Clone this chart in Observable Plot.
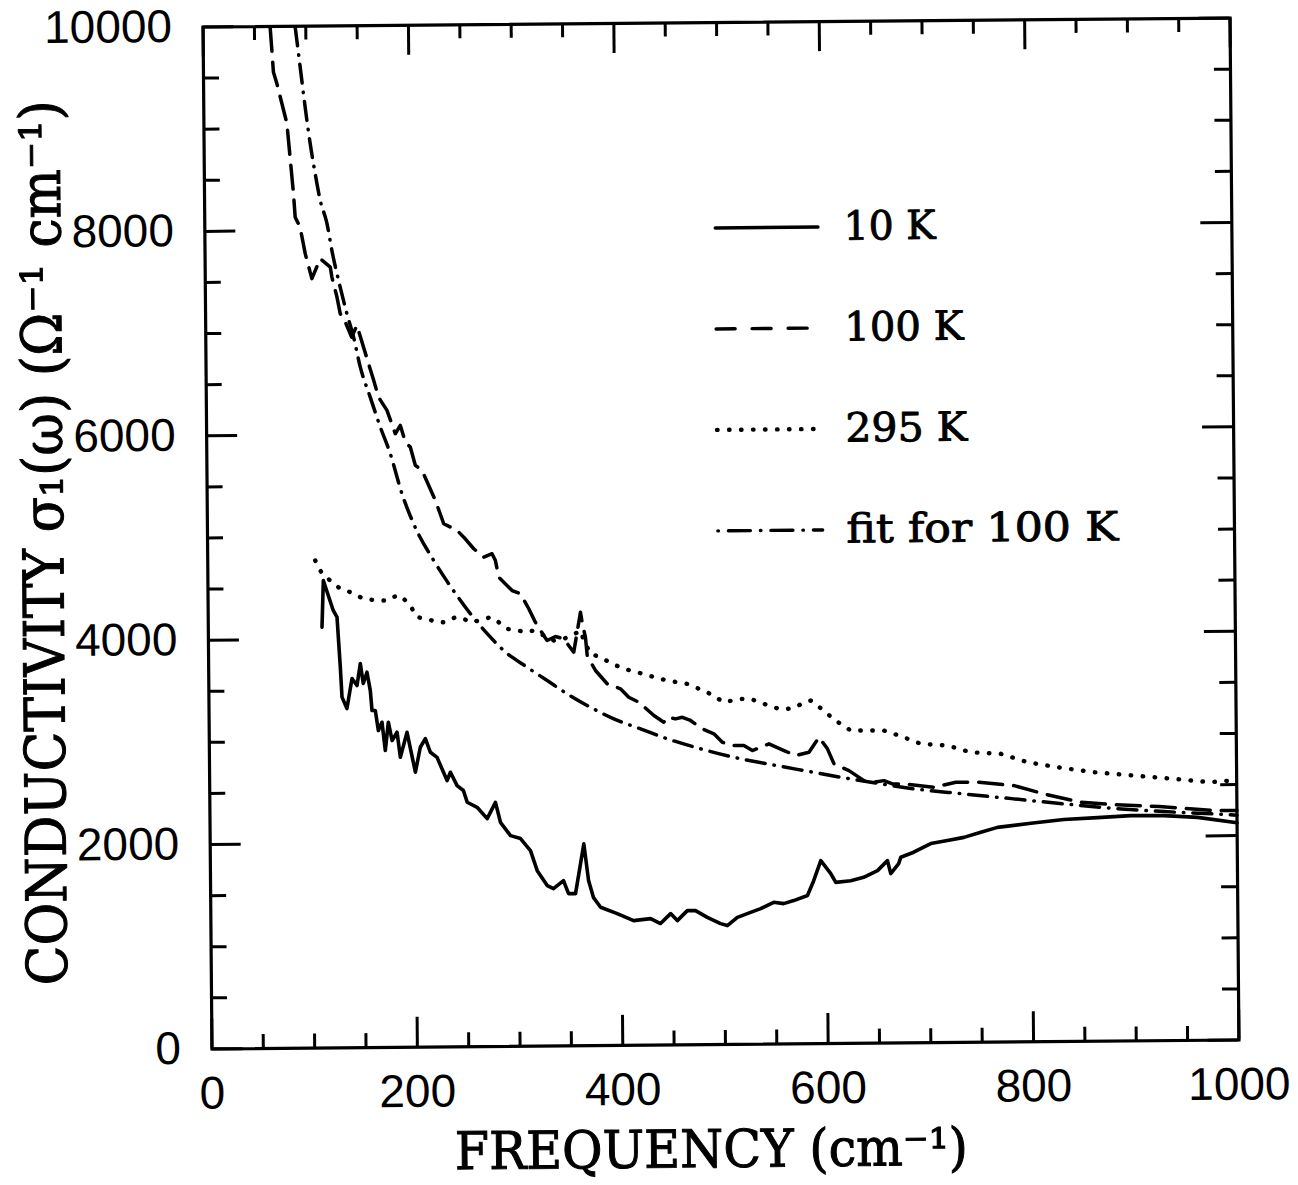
<!DOCTYPE html>
<html>
<head>
<meta charset="utf-8">
<script src="https://cdn.jsdelivr.net/npm/d3@7"></script>
<script src="https://cdn.jsdelivr.net/npm/@observablehq/plot@0.6"></script>
<style>
  html, body { margin: 0; padding: 0; background: #fff; }
  #chart svg { display: block; transform-origin: 720.5px 533px; transform: rotate(-0.5deg); }
</style>
</head>
<body>
<div id="chart"></div>
<script>
// ---------------- data (frequency cm^-1, conductivity Ω^-1 cm^-1) ----------------
const curve10K = [[110.7,4117],[112.4,4574],[121.8,4280],[125.4,4214],[128.2,3724],[129.6,3431],[134.3,3319],[139.5,3613],[144.3,3543],[147.7,3759],[150.4,3563],[154.1,3673],[157.2,3493],[158.7,3298],[161.9,3298],[164.7,3101],[168.3,3182],[171.3,2905],[174.5,3182],[178,3002],[182.9,3083],[185.9,2838],[192.6,3082],[200.4,2690],[205.4,2934],[210.4,3019],[215.2,2884],[221.6,2834],[231.2,2606],[234.5,2687],[240.9,2556],[247,2507],[250.6,2392],[260.2,2342],[269.9,2230],[278.1,2389],[282.8,2193],[292.5,2062],[302.2,2032],[311.8,1914],[318.2,1717],[327.8,1570],[333.9,1540],[343.7,1617],[348.5,1489],[355.3,1489],[363.8,1975],[368.1,1615],[372.8,1448],[379.6,1353],[395.7,1289],[411.6,1220],[428.2,1238],[437.8,1189],[447.7,1285],[454.2,1216],[464,1313],[472,1312],[483.4,1245],[496.3,1183],[502.8,1163],[512.7,1243],[525.6,1291],[535.5,1326],[548.2,1387],[557.9,1373],[567.7,1402],[581.1,1450],[587.3,1595],[594.4,1791],[604,1663],[608.8,1577],[623.4,1592],[636,1624],[649.5,1688],[659.3,1785],[662.4,1658],[670.2,1755],[672.3,1817],[684.9,1865],[701.6,1948],[717.9,1976],[733.9,2006],[750.4,2054],[766.7,2101],[799.2,2138],[831.4,2172],[864.2,2188],[896.7,2205],[928.8,2202],[961.7,2182],[1000,2125]];

const curve100K = [[65.3,9992],[66.8,9766],[68.1,9554],[71.3,9443],[80.8,9051],[86.6,8365],[88.1,8130],[92.8,8032],[97.5,7776],[99.2,7708],[103.8,7529],[112.1,7723],[121.8,7640],[123.3,7542],[128.1,7346],[131.1,7183],[136,7100],[142,6953],[147.3,7067],[158.3,6691],[163.1,6528],[167.7,6363],[175.8,6233],[183.7,6004],[188.7,6085],[193.4,5921],[198.2,5872],[203,5692],[209.4,5643],[222.2,5347],[230.1,5119],[243,5053],[249.5,4986],[259.1,4872],[268.7,4788],[276.9,4822],[280.1,4755],[283.2,4591],[296.1,4460],[304.2,4427],[312.2,4280],[318.5,4148],[326.5,4017],[329.8,3968],[337.9,4006],[346,3983],[355.6,3851],[362.5,4242],[364,4144],[367.1,3997],[368.7,3818],[376.6,3670],[387.9,3539],[400.8,3489],[408.8,3406],[418.6,3356],[433.1,3225],[442.7,3158],[446.2,3207],[454.1,3190],[460.8,3205],[468.7,3173],[480.2,3090],[491.4,3041],[499.5,2957],[509.2,2924],[520.5,2923],[528.7,2873],[544.9,2938],[559.5,2871],[570.8,2821],[583.8,2852],[593.7,2998],[601.8,2884],[608.1,2736],[622.6,2669],[637.1,2570],[646.9,2553],[656.6,2568],[664.8,2535],[676.1,2534],[705.3,2499],[726.5,2546],[749.2,2544],[783.3,2508],[812.4,2424],[848.2,2339],[880.5,2313],[924.4,2291],[978,2247],[1000,2245]];

const curve295K = [[104.7,4771],[111.2,4640],[128.8,4492],[138.6,4458],[151.4,4392],[164.5,4374],[174.2,4373],[179.2,4405],[187.3,4421],[193.7,4355],[198.6,4290],[203.4,4207],[213.1,4190],[222.8,4156],[230.8,4156],[240.7,4204],[248.8,4187],[255.2,4153],[265,4170],[274.8,4201],[282.8,4151],[291,4085],[300.7,4069],[310.4,4051],[316.9,4067],[323.4,4034],[336.3,3967],[346,3983],[354.2,4015],[362.4,4063],[365.5,3965],[371.9,3834],[381.7,3799],[393,3734],[404.3,3684],[417.2,3650],[428.5,3616],[446.5,3566],[465.8,3532],[485.3,3448],[493.3,3399],[501.4,3349],[509.6,3365],[519.3,3380],[527.4,3380],[535.5,3346],[545.3,3313],[554.9,3279],[563.1,3278],[571.2,3294],[579.4,3342],[585.9,3358],[592.4,3309],[602.1,3226],[610,3160],[624.6,3061],[640.8,3060],[657,3058],[671.6,3008],[692.6,2925],[718.7,2906],[741.4,2838],[770.6,2820],[796.5,2736],[825.7,2684],[861.3,2632],[900.3,2596],[939.2,2560],[974.9,2524],[987.9,2539],[1000,2522]];

const curveFit100K = [[89.7,9992],[94.2,9601],[98.7,9208],[103.3,8850],[107.9,8556],[112.6,8294],[119,8066],[123.5,7804],[131.3,7443],[137.6,7183],[143.9,6953],[150.2,6659],[159.6,6364],[169.2,6070],[178.7,5808],[189.7,5416],[200.8,5121],[220,4761],[232.9,4555],[245.6,4370],[258.5,4195],[271.5,4040],[287.4,3874],[310.1,3708],[329.5,3576],[348.9,3444],[371.4,3311],[394.1,3195],[420,3095],[446,2996],[478.3,2895],[510.6,2809],[543.2,2742],[578.8,2673],[614.5,2605],[646.9,2548],[685.8,2485],[734.5,2431],[783.2,2378],[831.8,2325],[880.5,2277],[929.2,2241],[978,2214],[1000,2200]];

const seriesNames = ["10 K", "100 K", "295 K", "fit for 100 K"];
const xTickLabels = [0, 200, 400, 600, 800, 1000];
const yTickLabels = [0, 2000, 4000, 6000, 8000, 10000];

// ---------------- layout & style ----------------
const W = 1298, H = 1185;
const M = {left: 207, right: 64, top: 22, bottom: 141};
const plotW = W - M.left - M.right, plotH = H - M.top - M.bottom;
const xMinor = d3.range(0, 1001, 50).filter(v => v % 200 !== 0);
const yMinor = d3.range(0, 10001, 500).filter(v => v % 2000 !== 0);
const tick = {xMajor: 30, xMinor: 14, yMajor: 31, yMinor: 16, width: 3};

const styles = [
  {stroke: "black", strokeWidth: 3.6, strokeLinejoin: "round"},
  {stroke: "black", strokeWidth: 3.5, strokeDasharray: "24,11", strokeLinejoin: "round"},
  {stroke: "black", strokeWidth: 4.4, strokeDasharray: "0.5,11.5", strokeLinecap: "round"},
  {stroke: "black", strokeWidth: 3.5, strokeDasharray: "19,9,0.5,9", strokeLinecap: "round", curve: "monotone-x"}
];
const legendStyles = [
  {stroke: "black", strokeWidth: 3.4},
  {stroke: "black", strokeWidth: 3.4, strokeDasharray: "19,17"},
  {stroke: "black", strokeWidth: 4.4, strokeDasharray: "0.5,11.5", strokeLinecap: "round"},
  {stroke: "black", strokeWidth: 3.4, strokeDasharray: "0.5,10,22,10", strokeLinecap: "round"}
];
const legendLayout = {x0: 497, lens: [100, 89, 94, 102], textX: 622, y0: 7990, step: 988, textLens: [92, 119, 122, 272]};

const curves = [curve10K, curve100K, curve295K, curveFit100K];
const serifFont = "'DejaVu Serif', 'Liberation Serif', serif";
const tickFont = "'Liberation Sans', 'DejaVu Sans', sans-serif";

const marks = [];
curves.forEach((c, i) => {
  marks.push(Plot.line(c, {x: d => d[0], y: d => d[1], ...styles[i]}));
});
// legend
seriesNames.forEach((name, i) => {
  const y = legendLayout.y0 - i * legendLayout.step;
  const x0 = legendLayout.x0, x1 = legendLayout.x0 + legendLayout.lens[i];
  marks.push(Plot.line([[x0, y], [x1, y]], {x: d => d[0], y: d => d[1], ...legendStyles[i]}));
  marks.push(Plot.text([name], {x: legendLayout.textX, y, text: d => d, textAnchor: "start", lineAnchor: "middle",
    fontSize: 40, fontFamily: serifFont, fill: "black", stroke: "black", strokeWidth: 0.9}));
});
// ticks, all four sides, pointing inward
const tickOpts = {stroke: "black", strokeWidth: tick.width};
marks.push(
  Plot.tickX(xTickLabels, {x: d => d, insetTop: plotH - tick.xMajor, ...tickOpts}),
  Plot.tickX(xMinor, {x: d => d, insetTop: plotH - tick.xMinor, ...tickOpts}),
  Plot.tickX(xTickLabels, {x: d => d, insetBottom: plotH - tick.xMajor, ...tickOpts}),
  Plot.tickX(xMinor, {x: d => d, insetBottom: plotH - tick.xMinor, ...tickOpts}),
  Plot.tickY(yTickLabels, {y: d => d, insetRight: plotW - tick.yMajor, ...tickOpts}),
  Plot.tickY(yMinor, {y: d => d, insetRight: plotW - tick.yMinor, ...tickOpts}),
  Plot.tickY(yTickLabels, {y: d => d, insetLeft: plotW - tick.yMajor, ...tickOpts}),
  Plot.tickY(yMinor, {y: d => d, insetLeft: plotW - tick.yMinor, ...tickOpts}),
  Plot.frame({stroke: "black", strokeWidth: 3.2}),
  Plot.axisX(xTickLabels, {tickSize: 0, tickPadding: 27, fontSize: 46, fontFamily: tickFont, tickFormat: d => String(d), label: null,
    stroke: "black", strokeWidth: 0.6}),
  Plot.axisY(yTickLabels, {tickSize: 0, tickPadding: 31, fontSize: 46, fontFamily: tickFont, tickFormat: d => String(d), label: null,
    stroke: "black", strokeWidth: 0.6})
);

const plot = Plot.plot({
  width: W, height: H,
  marginLeft: M.left, marginRight: M.right, marginTop: M.top, marginBottom: M.bottom,
  x: {domain: [0, 1000]},
  y: {domain: [0, 10000]},
  style: {background: "white", color: "black", fontFamily: tickFont, overflow: "visible"},
  marks
});

const svg = d3.select(plot);
// legend label widths
svg.selectAll("text").each(function () {
  const t = this.textContent;
  const i = seriesNames.indexOf(t);
  if (i >= 0) d3.select(this).attr("textLength", legendLayout.textLens[i]).attr("lengthAdjust", "spacingAndGlyphs");
});
// axis titles
svg.append("text")
  .attr("transform", `translate(${M.left + plotW / 2 - 14.5},${H - 18})`)
  .attr("text-anchor", "middle")
  .attr("font-family", serifFont).attr("font-size", 52)
  .attr("fill", "black").attr("stroke", "black").attr("stroke-width", 1)
  .attr("textLength", 513).attr("lengthAdjust", "spacingAndGlyphs")
  .text("FREQUENCY (cm⁻¹)");
svg.append("text")
  .attr("transform", `translate(63,${M.top + plotH / 2 + 4})rotate(-90)`)
  .attr("text-anchor", "middle")
  .attr("font-family", serifFont).attr("font-size", 56)
  .attr("fill", "black").attr("stroke", "black").attr("stroke-width", 1)
  .attr("textLength", 885).attr("lengthAdjust", "spacingAndGlyphs")
  .text("CONDUCTIVITY σ₁(ω) (Ω⁻¹ cm⁻¹)");

document.getElementById("chart").appendChild(plot);
</script>
</body>
</html>
